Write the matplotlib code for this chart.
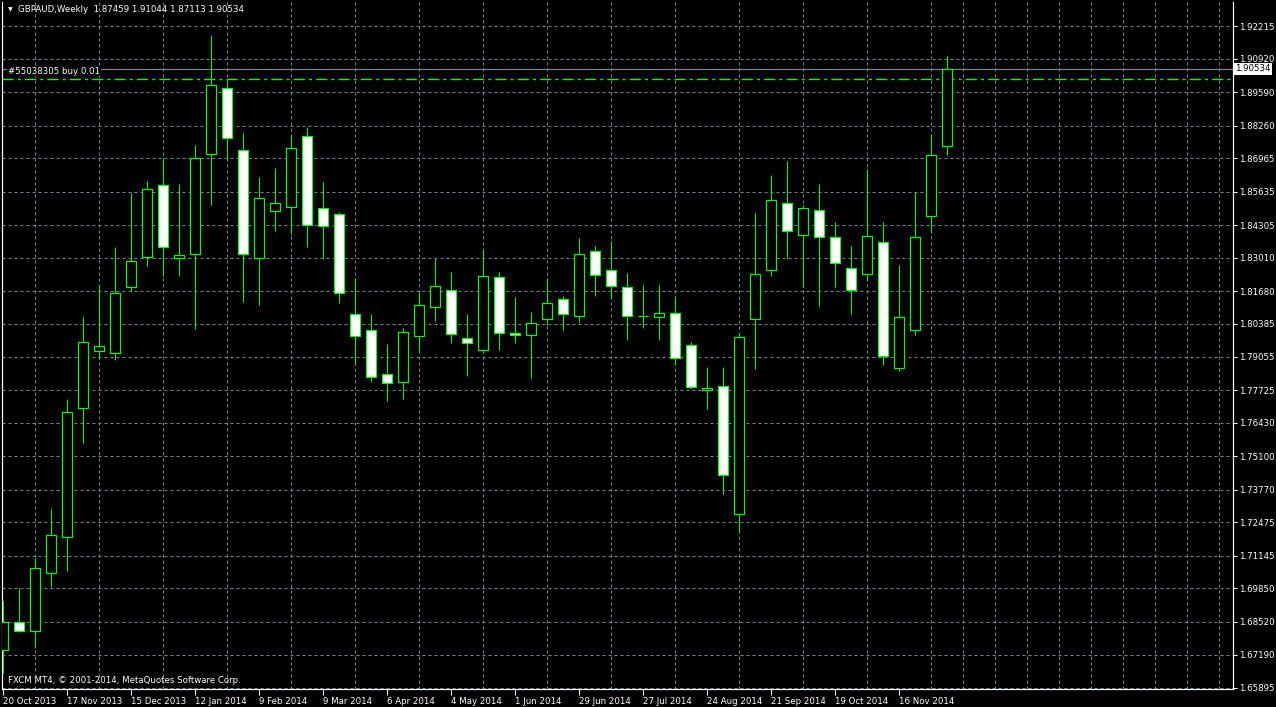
import matplotlib
matplotlib.use("Agg")
import matplotlib.pyplot as plt
from matplotlib.patches import Rectangle

plt.rcParams['font.family'] = ['DejaVu Sans']

# Weekly GBPAUD bars, 20 Oct 2013 .. 7 Dec 2014
opens = [1.6739, 1.6850, 1.6816, 1.7044, 1.7187, 1.7702, 1.7930, 1.7922, 1.8184, 1.8305,
         1.8591, 1.8301, 1.8314, 1.8712, 1.8978, 1.8731, 1.8300, 1.8487, 1.8504, 1.8784,
         1.8499, 1.8475, 1.8077, 1.8014, 1.7838, 1.7806, 1.7990, 1.8106, 1.8172, 1.7981,
         1.7934, 1.8225, 1.8002, 1.7993, 1.8058, 1.8136, 1.8067, 1.8329, 1.8252, 1.8184,
         1.8068, 1.8065, 1.8082, 1.7954, 1.7772, 1.7790, 1.7279, 1.8058, 1.8252, 1.8520,
         1.8392, 1.8492, 1.8383, 1.8261, 1.8234, 1.8365, 1.7862, 1.8014, 1.8467, 1.87459]
highs = [1.6935, 1.6985, 1.7104, 1.7302, 1.7738, 1.8063, 1.8193, 1.8343, 1.8557, 1.8605,
         1.8697, 1.8593, 1.8751, 1.9188, 1.9012, 1.8796, 1.8620, 1.8658, 1.8791, 1.8823,
         1.8601, 1.8481, 1.8218, 1.8075, 1.7956, 1.8021, 1.8164, 1.8298, 1.8242, 1.8075,
         1.8336, 1.8245, 1.8145, 1.8084, 1.8215, 1.8148, 1.8380, 1.8346, 1.8366, 1.8239,
         1.8193, 1.8194, 1.8147, 1.7966, 1.7867, 1.7866, 1.8002, 1.8477, 1.8629, 1.8685,
         1.8511, 1.8593, 1.8441, 1.8346, 1.8653, 1.8441, 1.8271, 1.8564, 1.8792, 1.91044]
lows = [1.6646, 1.6811, 1.6748, 1.6990, 1.7055, 1.7561, 1.7898, 1.7893, 1.8164, 1.8268,
        1.8228, 1.8228, 1.8015, 1.8511, 1.8690, 1.8124, 1.8114, 1.8407, 1.8395, 1.8344,
        1.8301, 1.8121, 1.7874, 1.7806, 1.7729, 1.7738, 1.7922, 1.8050, 1.7961, 1.7830,
        1.7922, 1.7935, 1.7963, 1.7821, 1.8032, 1.8014, 1.8046, 1.8148, 1.8138, 1.7973,
        1.8019, 1.7975, 1.7874, 1.7779, 1.7699, 1.7360, 1.7205, 1.7857, 1.8228, 1.8300,
        1.8184, 1.8109, 1.8184, 1.8077, 1.8210, 1.7874, 1.7850, 1.7992, 1.8402, 1.87113]
closes = [1.6850, 1.6816, 1.7067, 1.7196, 1.7687, 1.7966, 1.7949, 1.8160, 1.8288, 1.8576,
          1.8344, 1.8312, 1.8699, 1.8990, 1.8777, 1.8317, 1.8540, 1.8520, 1.8739, 1.8431,
          1.8426, 1.8162, 1.7990, 1.7826, 1.7803, 1.8005, 1.8113, 1.8189, 1.7998, 1.7963,
          1.8228, 1.8002, 1.7993, 1.8039, 1.8121, 1.8075, 1.8317, 1.8233, 1.8189, 1.8067,
          1.8069, 1.8080, 1.7901, 1.7785, 1.7780, 1.7436, 1.7985, 1.8237, 1.8532, 1.8406,
          1.8499, 1.8382, 1.8281, 1.8174, 1.8389, 1.7910, 1.8065, 1.8383, 1.8711, 1.90534]

date_labels = ["20 Oct 2013", "17 Nov 2013", "15 Dec 2013", "12 Jan 2014", "9 Feb 2014",
               "9 Mar 2014", "6 Apr 2014", "4 May 2014", "1 Jun 2014", "29 Jun 2014",
               "27 Jul 2014", "24 Aug 2014", "21 Sep 2014", "19 Oct 2014", "16 Nov 2014"]
price_levels = [1.92215, 1.90920, 1.89590, 1.88260, 1.86965, 1.85635, 1.84305, 1.83010,
                1.81680, 1.80385, 1.79055, 1.77725, 1.76430, 1.75100, 1.73770, 1.72475,
                1.71145, 1.69850, 1.68520, 1.67190, 1.65895]

bid = 1.90534
order_price = 1.9012
order_label = "#55038305 buy 0.01"
header = "GBPAUD,Weekly  1.87459 1.91044 1.87113 1.90534"
copyright_txt = "FXCM MT4, \u00a9 2001-2014, MetaQuotes Software Corp."

GREEN = "#00ff00"
GRID = "#778899"
px = 0.72  # one pixel in points at dpi 100

fig = plt.figure(figsize=(12.76, 7.07), dpi=100, facecolor="black")
ax = fig.add_axes([2 / 1276, 18 / 707, 1231 / 1276, 687 / 707], facecolor="black")

# candles
for i in range(len(opens)):
    o, h, l, c = opens[i], highs[i], lows[i], closes[i]
    ax.vlines(i, l, h, color=GREEN, lw=px, zorder=3)
    fill = "white" if c < o else "black"
    ax.add_patch(Rectangle((i - 0.31, min(o, c)), 0.62, abs(c - o),
                           facecolor=fill, edgecolor=GREEN, lw=1.2 * px, zorder=4))

ax.set_xlim(-0.0625, 76.875)
ax.set_ylim(1.65836, 1.93187)

# axes, ticks, grid
ax.set_xticks(range(0, 4 * len(date_labels), 4))
ax.set_xticklabels(date_labels)
for t in ax.get_xticklabels():
    t.set_ha("left")
ax.set_xticks(range(0, 77, 2), minor=True)
ax.tick_params(axis="x", which="major", colors="white", length=4, width=px,
               labelsize=6.2, pad=1.5)
ax.tick_params(axis="x", which="minor", length=0)
ax.grid(axis="x", which="minor", color=GRID, linestyle=(0, (3, 3)), lw=px)

ax.yaxis.tick_right()
ax.set_yticks(price_levels)
ax.set_yticklabels([f"{v:.5f}" for v in price_levels])
ax.tick_params(axis="y", colors="white", length=3, width=px, labelsize=6.2, pad=1.5)
ax.grid(axis="y", which="major", color=GRID, linestyle=(0, (3, 3)), lw=px)
ax.set_axisbelow(True)

for side in ["left", "bottom", "right"]:
    ax.spines[side].set_color("white")
    ax.spines[side].set_linewidth(1.2 * px)
ax.spines["top"].set_visible(False)

# bid line + price box
ax.axhline(bid, color=GRID, lw=1.2 * px, zorder=2)
ax.text(1.0015, bid, f"{bid:.5f}", transform=ax.get_yaxis_transform(), ha="left",
        va="center", fontsize=6.2, color="black", clip_on=False,
        bbox=dict(facecolor="white", edgecolor="none", pad=1.2))

# order line + label
ax.axhline(order_price, color=GREEN, lw=1.4 * px, linestyle=(0, (8, 3, 2, 3)), zorder=2)
ax.annotate(order_label, xy=(0.005, order_price), xycoords=("axes fraction", "data"),
            xytext=(0, 2.5), textcoords="offset points", ha="left", va="bottom",
            fontsize=6.2, color="white", zorder=5,
            bbox=dict(facecolor="black", edgecolor="none", pad=0.6))

# header and footer text
fig.text(10 / 1276, 1 - 10 / 707, "\u25bc", color="white", fontsize=4.5,
         ha="center", va="center")
fig.text(18 / 1276, 1 - 10 / 707, header, color="white", fontsize=6.2,
         ha="left", va="center")
ax.text(0.005, 0.012, copyright_txt, transform=ax.transAxes, color="white",
        fontsize=6.2, ha="left", va="center", zorder=5)

fig.savefig("out.png", dpi=100, facecolor="black")
